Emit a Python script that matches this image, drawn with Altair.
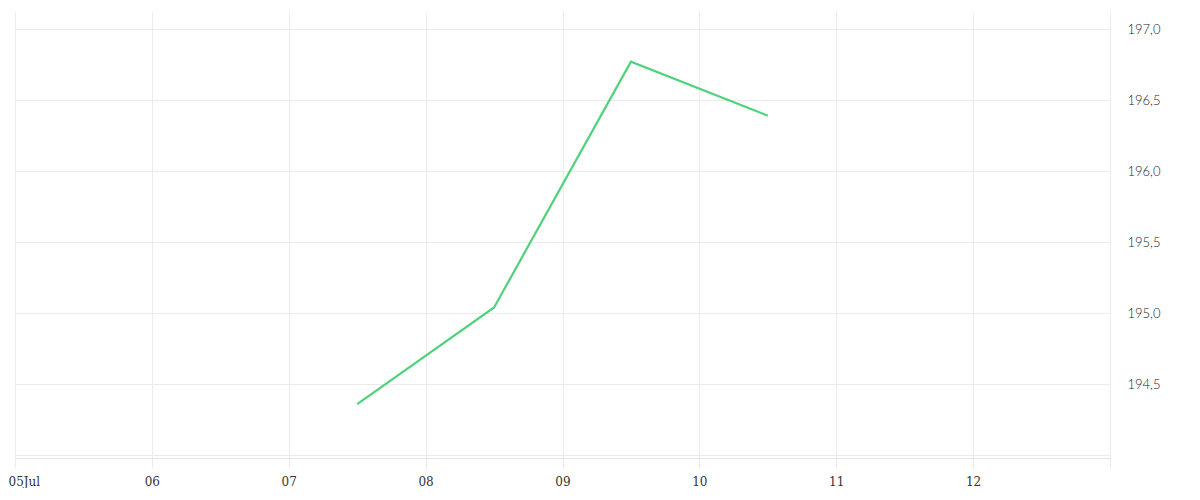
import altair as alt
import pandas as pd

dates = ["2024-07-07T12:00:00Z", "2024-07-08T12:00:00Z", "2024-07-09T12:00:00Z", "2024-07-10T12:00:00Z"]
values = [194.36, 195.04, 196.77, 196.39]
x_ticks = ["2024-07-05T00:00:00Z", "2024-07-06T00:00:00Z", "2024-07-07T00:00:00Z", "2024-07-08T00:00:00Z",
           "2024-07-09T00:00:00Z", "2024-07-10T00:00:00Z", "2024-07-11T00:00:00Z", "2024-07-12T00:00:00Z",
           "2024-07-13T00:00:00Z"]
y_ticks = [194.0, 194.5, 195.0, 195.5, 196.0, 196.5, 197.0]

df = pd.DataFrame({"date": dates, "value": values})

grid = "#ececec"

chart = alt.Chart(df).mark_line(color="#4fd27c", strokeWidth=2.2).encode(
    x=alt.X("date:T",
            scale=alt.Scale(domain=["2024-07-05T00:00:00Z", "2024-07-13T00:00:00Z"], type="utc"),
            axis=alt.Axis(values=x_ticks, title=None, grid=True, gridColor=grid,
                          domainColor="#e4e4e4", tickColor=grid, tickSize=10,
                          labelExpr="utcdate(datum.value) == 13 ? '' : (utcdate(datum.value) == 5 ? utcFormat(datum.value, '%d') + 'Jul' : utcFormat(datum.value, '%d'))",
                          labelFont="DejaVu Serif", labelFontSize=12, labelColor="#333333",
                          labelPadding=8, labelFlush=True, labelFlushOffset=7)),
    y=alt.Y("value:Q",
            scale=alt.Scale(domain=[193.98, 197.12], nice=False, zero=False),
            axis=alt.Axis(orient="right", values=y_ticks, title=None, grid=True, gridColor=grid,
                          domain=False, ticks=False, labelPadding=17,
                          labelExpr="datum.value < 194.2 ? '' : replace(format(datum.value, '.1f'), '.', ',')",
                          labelFont="Lato", labelFontWeight=300, labelFontSize=13, labelColor="#222222"))
).properties(
    width=1095, height=446,
    padding={"left": 7, "top": 4, "right": 60, "bottom": 30},
    autosize=alt.AutoSizeParams(type="none")
).configure_view(stroke=None)

chart.save("out.html", embed_options={"renderer": "svg", "actions": False})
